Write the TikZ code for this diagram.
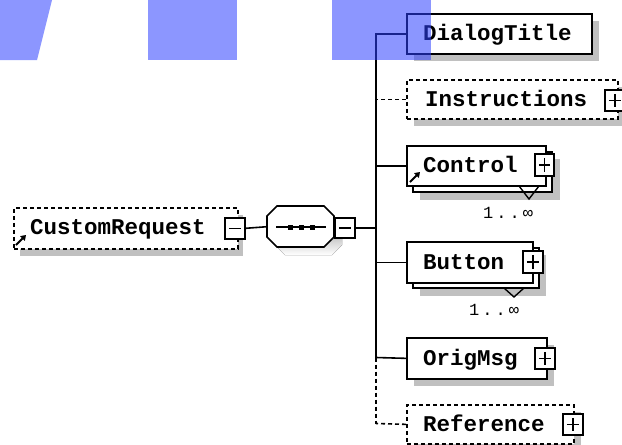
\documentclass[tikz,border=0pt]{standalone}
\usepackage{fontspec}
\newfontfamily\lblfont{Liberation Mono}
\usetikzlibrary{arrows.meta}
\definecolor{shade}{RGB}{192,192,192}
\definecolor{hl}{RGB}{45,64,255}
\tikzset{
 conn/.style={line width=1.6pt},
 dconn/.style={line width=1.6pt, dash pattern=on 4pt off 3pt},
 elem/.style={draw, fill=white, line width=1.7pt, inner sep=0pt, anchor=north west},
 optelem/.style={elem, dash pattern=on 4pt off 3pt},
 shadowbox/.style={fill=shade, draw=none, inner sep=0pt, anchor=north west},
 lab/.style={font=\lblfont\bfseries\fontsize{22.5}{24}\selectfont, inner sep=0pt, anchor=base west},
 card/.style={font=\lblfont\addfontfeature{LetterSpace=18}\fontsize{17}{18}\selectfont, inner sep=0pt, anchor=base west},
 pmbox/.style={draw, fill=white, line width=1.6pt, inner sep=0pt, minimum width=20pt, minimum height=21pt, anchor=north west},
 plusbox/.style={pmbox, path picture={
   \draw[line width=1.6pt] ([xshift=4pt]path picture bounding box.west) -- ([xshift=-4pt]path picture bounding box.east);
   \draw[line width=1.6pt] ([yshift=-4pt]path picture bounding box.north) -- ([yshift=4pt]path picture bounding box.south);}},
 minusbox/.style={pmbox, path picture={
   \draw[line width=1.6pt] ([xshift=4pt]path picture bounding box.west) -- ([xshift=-4pt]path picture bounding box.east);}},
 refarrow/.style={line width=2pt, -{Triangle[length=5pt,width=6.5pt]}},
 overlay/.style={fill=hl, fill opacity=0.55, draw=none},
}
\begin{document}
\begin{tikzpicture}[x=1pt,y=-1pt]
\useasboundingbox (0,0) rectangle (622,445);

% ---------- shadows ----------
\node[shadowbox, minimum width=223pt, minimum height=41pt] (crS) at (20,215) {};
\fill[shade] (285,214) -- (332,214) -- (342,224) -- (342,245) -- (332,255) -- (285,255) -- (275,245) -- (275,224) -- cycle;
\node[shadowbox, minimum width=185pt, minimum height=40pt] (dtS) at (414,21) {};
\node[shadowbox, minimum width=211pt, minimum height=39pt] (inS) at (414,87) {};
\node[shadowbox, minimum width=140pt, minimum height=41pt] (ctS) at (420,159) {};
\node[shadowbox, minimum width=126pt, minimum height=41pt] (btS) at (420,255) {};
\node[shadowbox, minimum width=140pt, minimum height=41pt] (omS) at (414,345) {};
\node[shadowbox, minimum width=167pt, minimum height=39pt] (rfS) at (414,412) {};

% ---------- root ----------
\node[optelem, minimum width=224pt, minimum height=41pt] (cr) at (13,207) {};
\node[lab] (crT) at (30,234) {CustomRequest};
\draw[refarrow] (16,245) -- (26,235);
\node[minusbox] (crM) at (224,217) {};

% ---------- sequence ----------
\node[inner sep=0pt, minimum width=67pt, minimum height=41pt, anchor=north west] (seq) at (267,206) {};
\draw[line width=1.7pt, fill=white] (277,206) -- (324,206) -- (334,216) -- (334,237) -- (324,247) -- (277,247) -- (267,237) -- (267,216) -- cycle;
\draw[conn] (276,227) -- (326,227);
\foreach \dx in {290,301,312} \fill (\dx-2.5,224.5) rectangle (\dx+2.5,229.5);
\node[minusbox, minimum height=20pt] (sqM) at (334,217) {};

% ---------- children ----------
\node[elem, minimum width=185pt, minimum height=40pt] (dt) at (406,13) {};
\node[lab] (dtT) at (423,40) {DialogTitle};

\node[optelem, minimum width=211pt, minimum height=39pt] (in) at (406,79) {};
\node[lab] (inT) at (425,106.5) {Instructions};
\node[plusbox] (inP) at (604,89) {};

\node[elem, minimum width=139pt, minimum height=40pt] (ctB) at (412,151) {};
\node[elem, minimum width=139pt, minimum height=40pt] (ct) at (406,145) {};
\node[lab] (ctT) at (423,172) {Control};
\draw[refarrow] (410,182) -- (420,172);
\node[plusbox, minimum width=19pt, minimum height=22pt] (ctP) at (534,153) {};
\draw[line width=1.4pt] (519,186) -- (529,199) -- (539,186);
\node[card] (ctC) at (483,218) {1..∞};

\node[elem, minimum width=126pt, minimum height=40pt] (btB) at (412,247) {};
\node[elem, minimum width=126pt, minimum height=41pt] (bt) at (406,241) {};
\node[lab] (btT) at (423,269) {Button};
\node[plusbox, minimum height=22pt] (btP) at (522,250) {};
\draw[line width=1.4pt] (504,288) -- (514,297) -- (524,288);
\node[card] (btC) at (469,315) {1..∞};

\node[elem, minimum width=140pt, minimum height=41pt] (om) at (406,337) {};
\node[lab] (omT) at (423,365) {OrigMsg};
\node[plusbox] (omP) at (534,347) {};

\node[optelem, minimum width=167pt, minimum height=39pt] (rf) at (406,404) {};
\node[lab] (rfT) at (423,431) {Reference};
\node[plusbox] (rfP) at (562,413) {};

% ---------- connectors ----------
\draw[conn] (crM.east) -- (seq.west);
\coordinate (tDT) at (376,33);
\coordinate (tSQ) at (376,227);
\coordinate (tOM) at (376,357.5);
\coordinate (tRF) at (376,423.5);
\draw[conn] (sqM.east) -- (sqM.east -| tSQ);
\draw[conn] (tDT) -- (tOM);
\draw[dconn] (tOM) -- (tRF);
\draw[conn] (dt.west) -- (dt.west -| tDT);
\draw[dconn] (in.west) -- (in.west -| tDT);
\draw[conn] (ct.west) -- (ct.west -| tDT);
\draw[conn] (bt.west) -- (bt.west -| tDT);
\draw[conn] (om.west) -- (tOM);
\draw[dconn] (rf.west) -- (tRF);

% ---------- blue overlays ----------
\fill[overlay] (0,0) -- (52,0) -- (37,60) -- (0,60) -- cycle;
\fill[overlay] (148,0) rectangle (237,60);
\fill[overlay] (332,0) rectangle (431,60);
\end{tikzpicture}
\end{document}
